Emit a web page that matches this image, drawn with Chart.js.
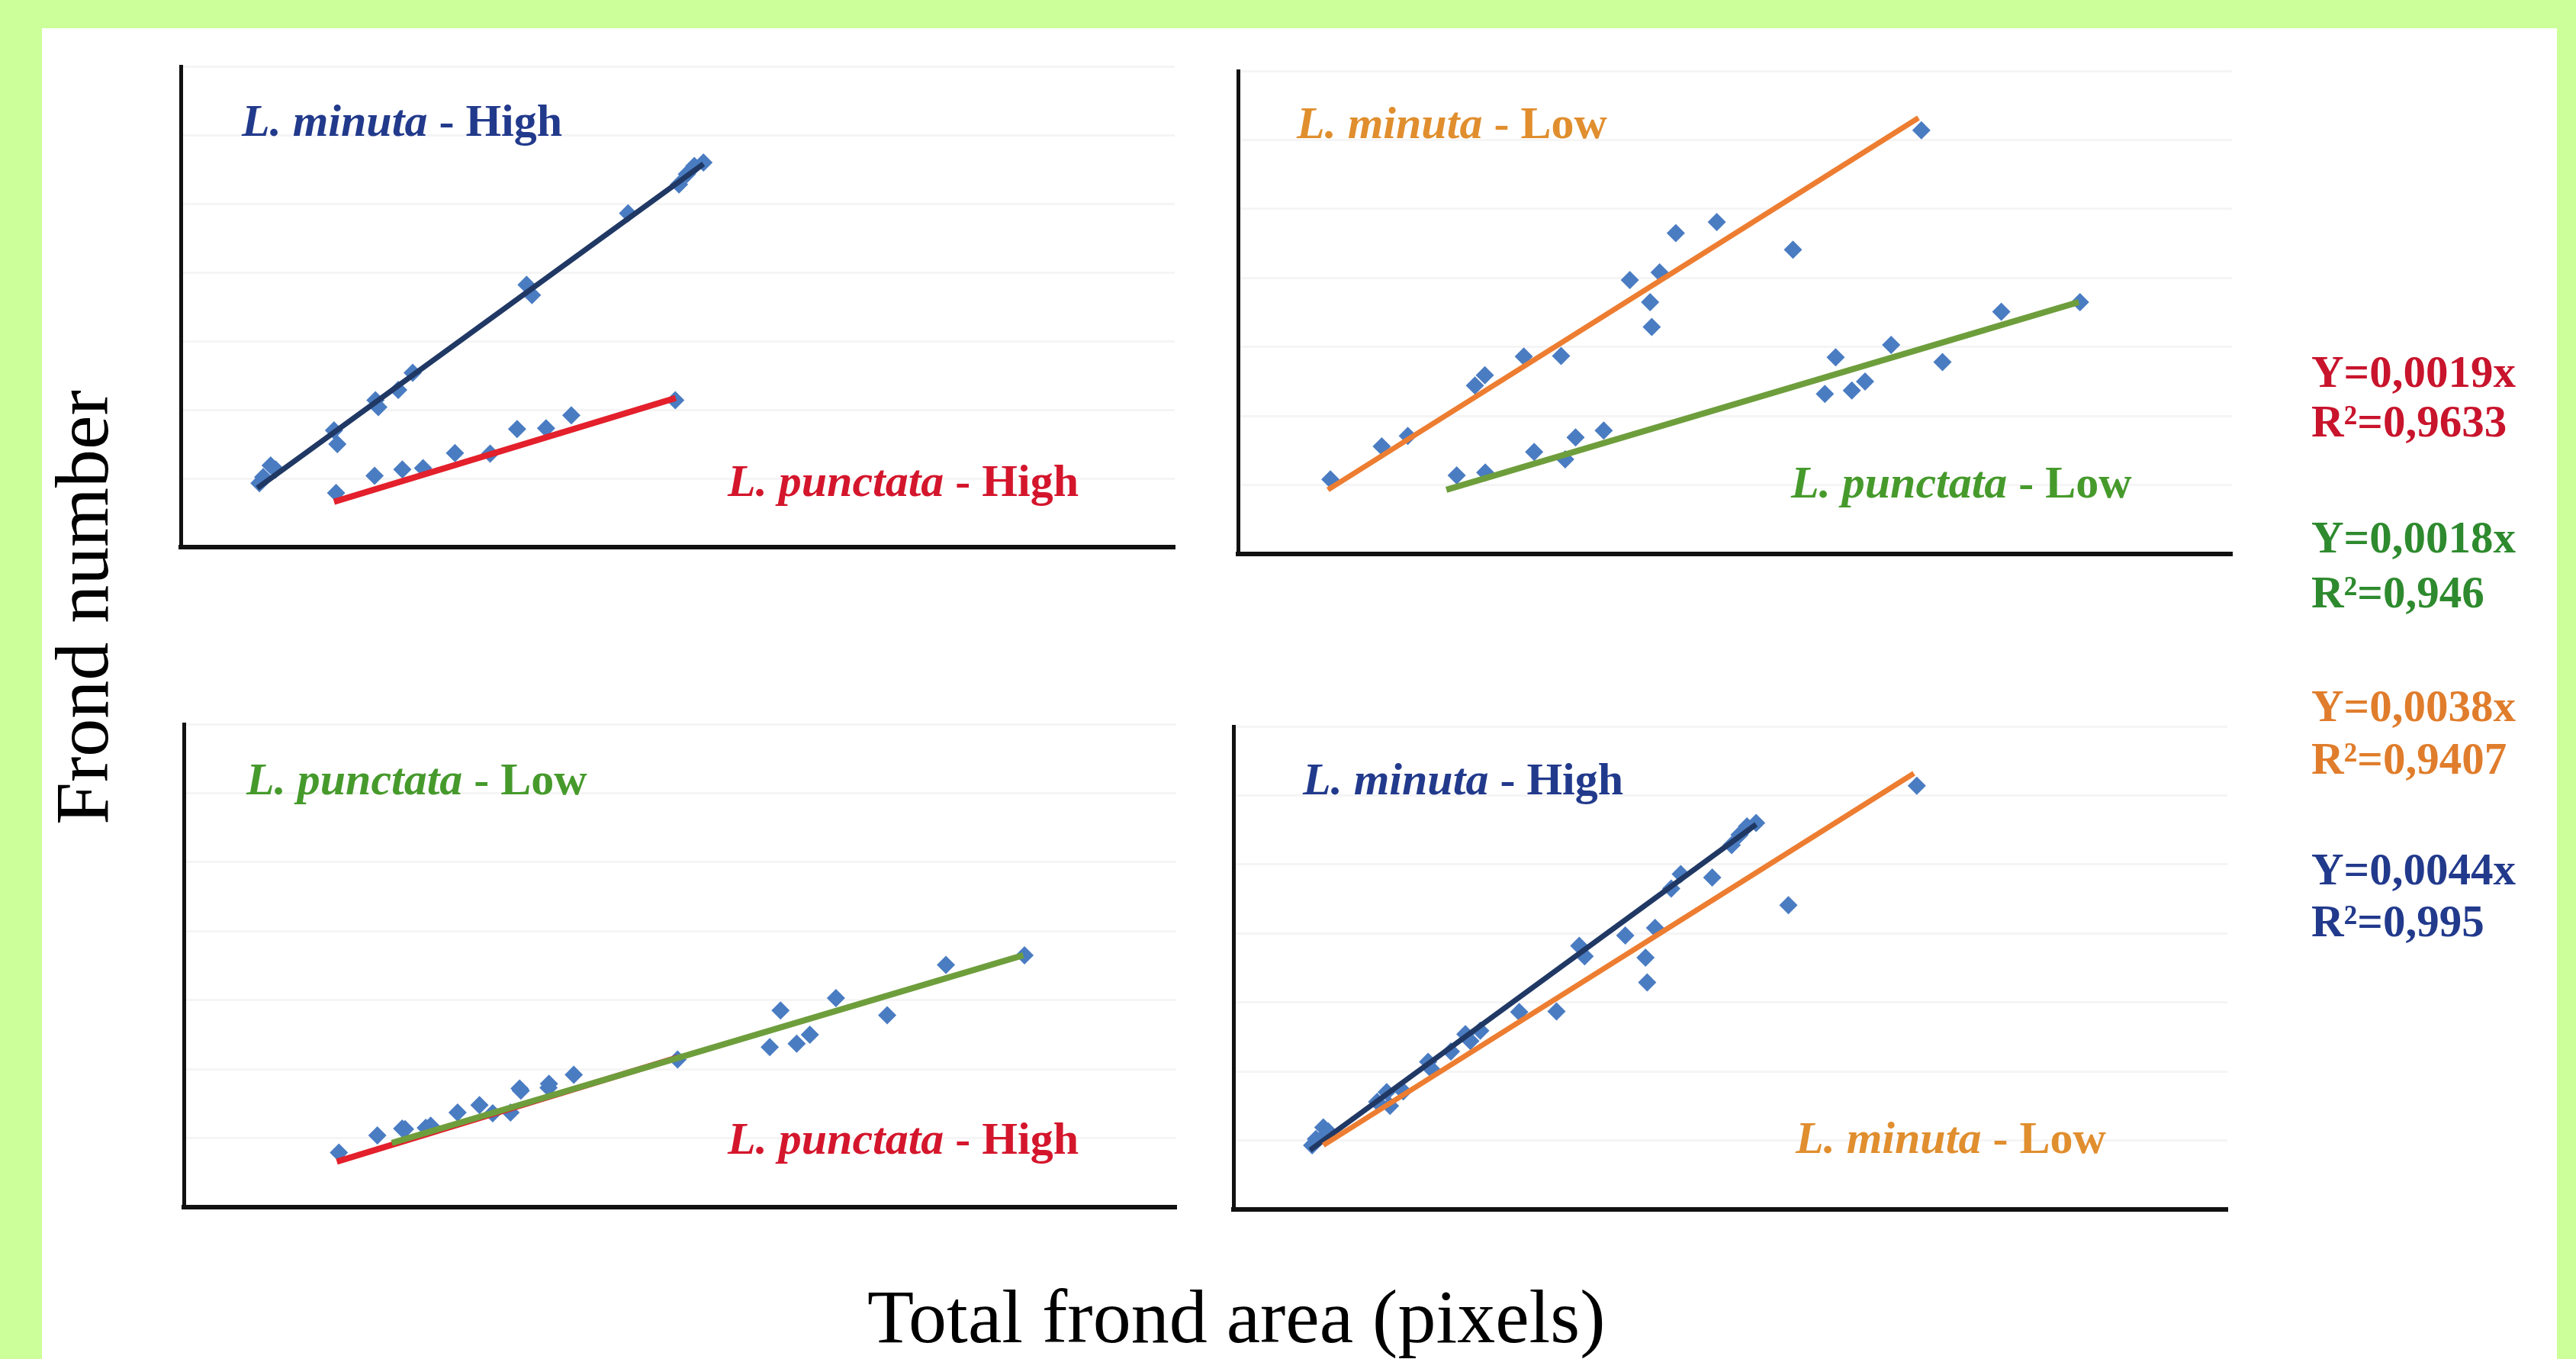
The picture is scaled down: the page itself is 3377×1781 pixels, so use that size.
<!DOCTYPE html>
<html>
<head>
<meta charset="utf-8">
<script src="https://cdn.jsdelivr.net/npm/chart.js@4.4.1/dist/chart.umd.min.js"></script>
<style>
  body {
    margin: 0;
    width: 3377px;
    height: 1781px;
    background: #ccff99;
    overflow: hidden;
    position: relative;
    font-family: "Liberation Serif", "Times New Roman", serif;
  }
  #sheet { position: absolute; left: 55px; top: 37px; width: 3297px; height: 1744px; background: #fff; }
  canvas { position: absolute; z-index: 1; }
  .lab { position: absolute; z-index: 3; font-size: 60px; line-height: 1; font-weight: bold; white-space: nowrap; }
  .eq { position: absolute; z-index: 3; left: 3030px; font-size: 59px; line-height: 1; font-weight: bold; white-space: nowrap; }
  .title { position: absolute; z-index: 3; font-size: 100px; line-height: 1; color: #000; white-space: nowrap; }
</style>
</head>
<body>
<div id="sheet"></div>

<div class="lab" style="left:317px;top:128px;color:#223a8c"><i>L. minuta</i> - High</div>
<div class="lab" style="left:954px;top:600px;color:#d4162c"><i>L. punctata</i> - High</div>
<div class="lab" style="left:1700px;top:131px;color:#e08e2e"><i>L. minuta</i> - Low</div>
<div class="lab" style="left:2348px;top:602px;color:#469a2c"><i>L. punctata</i> - Low</div>
<div class="lab" style="left:323px;top:991px;color:#469a2c"><i>L. punctata</i> - Low</div>
<div class="lab" style="left:954px;top:1462px;color:#d4162c"><i>L. punctata</i> - High</div>
<div class="lab" style="left:1708px;top:991px;color:#223a8c"><i>L. minuta</i> - High</div>
<div class="lab" style="left:2354px;top:1461px;color:#e08e2e"><i>L. minuta</i> - Low</div>

<div id="eqs"></div>

<div class="title" style="left:1137px;top:1676px">Total frond area (pixels)</div>
<div class="title" style="left:-242px;top:746px;width:700px;height:100px;text-align:center;transform:rotate(-90deg)">Frond number</div>

<script>
// ---- data (x = total frond area in pixels, y = frond number) ----
const minutaHigh = [[1900,9.3],[1990,10.2],[2170,11.9],[2290,11.3],[3700,17.0],[3780,15.0],[4700,21.4],[4770,20.4],
  [5250,22.9],[5600,25.4],[8350,38.2],[8480,36.7],[10800,48.6],[12030,52.8],[12220,54.3],[12400,55.5],[12620,56.0]];
const minutaLow = [[2230,10.8],[3470,15.6],[4100,17.1],[5720,24.4],[5960,25.9],[6900,28.6],[7800,28.7],[9460,39.7],
  [9950,36.5],[9990,32.9],[10180,40.8],[10570,46.5],[11560,48.1],[13400,44.1],[16500,61.4]];
const punctataHigh = [[3750,7.9],[4680,10.4],[5350,11.3],[5850,11.5],[6620,13.7],[7470,13.6],[8120,17.2],[8820,17.3],
  [9430,19.2],[11940,21.4]];
const punctataLow = [[5280,11.4],[5970,11.8],[7150,14.8],[7900,13.7],[8150,16.9],[8830,17.9],[14170,23.2],[14430,28.5],
  [14820,23.7],[15140,25.0],[15770,30.3],[17010,27.8],[18430,35.1],[20330,36.5]];

// trend line end points
const minutaHighFit = [[1850,8.6],[12620,55.8]];
const minutaLowFit = [[2170,9.3],[16430,63.2]];
const punctataHighFit = [[3700,6.6],[11950,21.7]];
const punctataLowFit = [[5030,9.3],[20300,36.5]];

const xRange = [0, 24000];
const yRange = [0, 70];
const yStep = 10;

const eqLines = ["Y=0,0019x", "R²=0,9633", "Y=0,0018x", "R²=0,946", "Y=0,0038x", "R²=0,9407", "Y=0,0044x", "R²=0,995"];
const eqColors = ["#c8142c", "#c8142c", "#2e8a2e", "#2e8a2e", "#e07d2c", "#e07d2c", "#223a8c", "#223a8c"];

// =========================
// COLOURS
// =========================
const POINT = "#4a7cc2";
const NAVY = "#203864";
const RED = "#e3202b";
const ORANGE = "#ed7d31";
const GREEN = "#6e9e3c";

const toXY = arr => arr.map(p => ({ x: p[0], y: p[1] }));

function pts(arr) {
    return {
        data: toXY(arr),
        pointStyle: "rectRot",
        pointRadius: 12,
        backgroundColor: POINT,
        borderWidth: 0,
        order: 5
    };
}

function fit(arr, color, width, order) {
    return {
        data: toXY(arr),
        showLine: true,
        pointRadius: 0,
        borderColor: color,
        borderWidth: width,
        fill: false,
        order: order
    };
}

// =========================
// PANELS
// =========================
const PAD = 14;
const panels = [
    { box: [237, 87, 1540, 717], sets: [pts(minutaHigh), pts(punctataHigh), fit(minutaHighFit, NAVY, 7, 1), fit(punctataHighFit, RED, 8, 0)] },
    { box: [1623, 93, 2926, 726], sets: [pts(minutaLow), pts(punctataLow), fit(minutaLowFit, ORANGE, 7, 1), fit(punctataLowFit, GREEN, 8, 0)] },
    { box: [241, 949, 1542, 1582], sets: [pts(punctataLow), pts(punctataHigh), fit(punctataHighFit, RED, 8, 1), fit(punctataLowFit, GREEN, 8, 0)] },
    { box: [1617, 952, 2920, 1585], sets: [pts(minutaHigh), pts(minutaLow), fit(minutaHighFit, NAVY, 7, 1), fit(minutaLowFit, ORANGE, 7, 0)] }
];

panels.forEach(p => {
    const [l, t, r, b] = p.box;
    const c = document.createElement("canvas");
    c.width = r - l + 2 * PAD;
    c.height = b - t + 2 * PAD;
    c.style.left = (l - PAD) + "px";
    c.style.top = (t - PAD) + "px";
    document.body.appendChild(c);

    new Chart(c, {
        type: "scatter",
        data: { datasets: p.sets },
        options: {
            responsive: false,
            animation: false,
            devicePixelRatio: 1,
            events: [],
            layout: { padding: PAD },
            plugins: { legend: { display: false }, tooltip: { enabled: false } },
            scales: {
                x: {
                    type: "linear", min: xRange[0], max: xRange[1],
                    ticks: { display: false },
                    grid: { display: false, drawTicks: false },
                    border: { display: true, color: "#111", width: 6 }
                },
                y: {
                    min: yRange[0], max: yRange[1],
                    ticks: { display: false, stepSize: yStep },
                    grid: { color: "#f5f5f5", lineWidth: 3, drawTicks: false },
                    border: { display: true, color: "#111", width: 5 }
                }
            }
        }
    });
});

// equations on the right
const baselines = [507, 572, 724, 796, 945, 1014, 1159, 1227];
const eqBox = document.getElementById("eqs");
eqLines.forEach((txt, i) => {
    const d = document.createElement("div");
    d.className = "eq";
    d.style.top = (baselines[i] - 49) + "px";
    d.style.color = eqColors[i];
    d.textContent = txt;
    eqBox.appendChild(d);
});
</script>
</body>
</html>
